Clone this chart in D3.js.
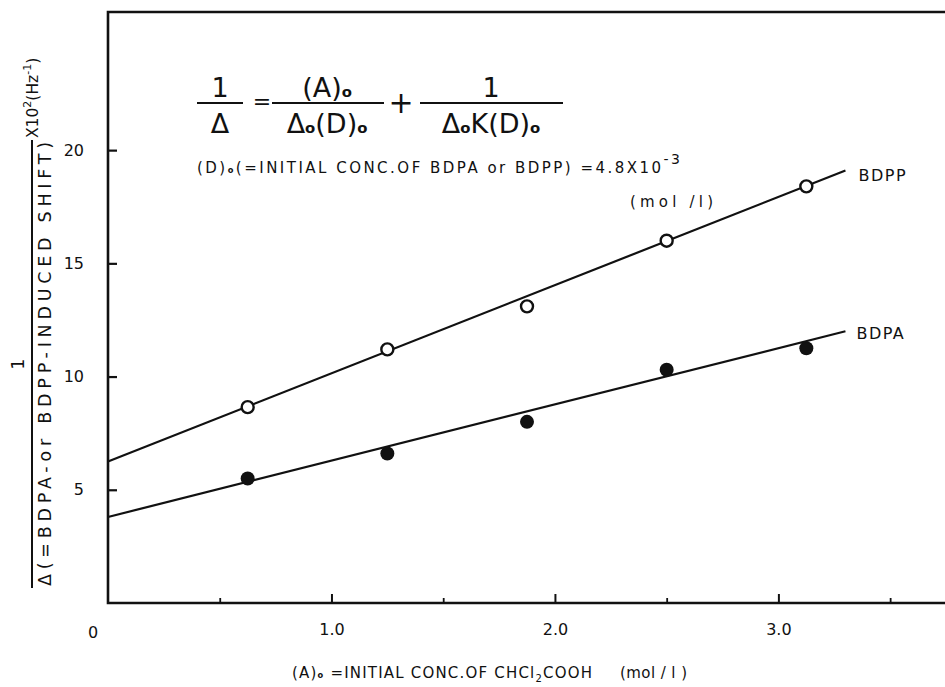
<!DOCTYPE html>
<html><head><meta charset="utf-8">
<script src="https://cdn.jsdelivr.net/npm/d3@7"></script>
<style>
body{margin:0;background:#fff}
svg{display:block}
text{font-family:"DejaVu Sans",sans-serif;fill:#111}
</style>
</head><body><svg id="c" width="945" height="687"></svg>
<script>
// ---- data ----
const xVals = [0.625, 1.25, 1.875, 2.5, 3.125];
const bdppVals = [8.65, 11.2, 13.1, 16.0, 18.4];
const bdpaVals = [5.5, 6.6, 8.0, 10.3, 11.25];
const bdppFitX = [0, 3.3];
const bdppFitY = [6.25, 19.1];
const bdpaFitX = [0, 3.3];
const bdpaFitY = [3.8, 12.0];
const yTicks = [5, 10, 15, 20];
const xMajorTicks = [1, 2, 3];
const xMinorTicks = [0.5, 1.5, 2.5, 3.5];
const xTickLabels = ["1.0", "2.0", "3.0"];
const seriesNames = ["BDPP", "BDPA"];

const svg = d3.select("#c");
const x = d3.scaleLinear().domain([0, 3.75]).range([108, 946]);
const y = d3.scaleLinear().domain([0, 26.1]).range([603, 12]);
const ink = "#111";

// frame
svg.append("path")
  .attr("d", `M${x.range()[1]+2},${y(26.1)} H${x(0)} V${y(0)} H${x.range()[1]+2}`)
  .attr("fill", "none").attr("stroke", ink).attr("stroke-width", 2.6);

// y axis
const yAx = svg.append("g").attr("transform", `translate(${x(0)},0)`)
  .call(d3.axisLeft(y).tickValues(yTicks).tickSize(-9).tickPadding(24).tickFormat(d3.format("d")));
yAx.select(".domain").remove();
yAx.selectAll(".tick line").attr("stroke", ink).attr("stroke-width", 2.2);
yAx.selectAll(".tick text").attr("font-size", 16).attr("font-family", "DejaVu Sans").attr("fill", ink);

// x axis major
const xAx = svg.append("g").attr("transform", `translate(0,${y(0)})`)
  .call(d3.axisBottom(x).tickValues(xMajorTicks).tickSize(-9).tickPadding(21)
    .tickFormat((d, i) => xTickLabels[i]));
xAx.select(".domain").remove();
xAx.selectAll(".tick line").attr("stroke", ink).attr("stroke-width", 2);
xAx.selectAll(".tick text").attr("font-size", 16).attr("font-family", "DejaVu Sans").attr("fill", ink);
// x axis minor
const xMin = svg.append("g").attr("transform", `translate(0,${y(0)})`)
  .call(d3.axisBottom(x).tickValues(xMinorTicks).tickSize(-5).tickFormat(""));
xMin.select(".domain").remove();
xMin.selectAll(".tick line").attr("stroke", ink).attr("stroke-width", 1.8);
// origin label
svg.append("text").attr("x", x(0) - 15).attr("y", y(0) + 35)
  .attr("text-anchor", "middle").attr("font-size", 16).text("0");

// fitted lines
const line = d3.line().x(d => x(d[0])).y(d => y(d[1]));
[[bdppFitX, bdppFitY], [bdpaFitX, bdpaFitY]].forEach(([fx, fy]) => {
  svg.append("path").datum(fx.map((v, i) => [v, fy[i]]))
    .attr("d", line).attr("fill", "none").attr("stroke", ink).attr("stroke-width", 2.2);
});

// points
svg.append("g").selectAll("circle").data(xVals.map((v, i) => [v, bdppVals[i]])).join("circle")
  .attr("cx", d => x(d[0])).attr("cy", d => y(d[1])).attr("r", 6)
  .attr("fill", "#fff").attr("stroke", ink).attr("stroke-width", 2.4);
svg.append("g").selectAll("circle").data(xVals.map((v, i) => [v, bdpaVals[i]])).join("circle")
  .attr("cx", d => x(d[0])).attr("cy", d => y(d[1])).attr("r", 7)
  .attr("fill", ink);

// series labels
svg.append("text").attr("x", x(bdppFitX[1]) + 13).attr("y", y(bdppFitY[1]) + 10)
  .attr("font-size", 16).attr("letter-spacing", 1.5).text(seriesNames[0]);
svg.append("text").attr("x", x(bdpaFitX[1]) + 11).attr("y", y(bdpaFitY[1]) + 8)
  .attr("font-size", 16).attr("letter-spacing", 1.5).text(seriesNames[1]);

// ---- formula ----
function subText(sel, parts) {
  parts.forEach(([t, sub]) => {
    const ts = sel.append("tspan").text(t);
    if (sub) ts.attr("font-size", "55%").attr("font-weight", "bold");
  });
  return sel;
}
const fs = 27;
function frac(cx, x0, x1, num, den) {
  svg.append("line").attr("x1", x0).attr("x2", x1).attr("y1", 103).attr("y2", 103)
    .attr("stroke", ink).attr("stroke-width", 2);
  subText(svg.append("text").attr("x", cx).attr("y", 97).attr("text-anchor", "middle")
    .attr("font-size", fs), num);
  subText(svg.append("text").attr("x", cx).attr("y", 133).attr("text-anchor", "middle")
    .attr("font-size", fs), den);
}
frac(220, 197, 243, [["1", false]], [["Δ", false]]);
svg.append("text").attr("x", 262).attr("y", 109).attr("text-anchor", "middle").attr("font-size", 22).text("=");
frac(327, 272, 384, [["(A)", false], ["o", true]], [["Δ", false], ["o", true], ["(D)", false], ["o", true]]);
svg.append("text").attr("x", 401).attr("y", 113).attr("text-anchor", "middle").attr("font-size", 30).text("+");
frac(491, 420, 563, [["1", false]], [["Δ", false], ["o", true], ["K", false], ["(D)", false], ["o", true]]);

const dl = svg.append("text").attr("x", 197).attr("y", 173).attr("font-size", 15);
subText(dl, [["(D)", false], ["o", true], ["(=INITIAL CONC.OF BDPA or BDPP) =4.8X10", false]]);
dl.append("tspan").attr("dy", -9).attr("font-size", 14).text("-3");
dl.attr("textLength", 483).attr("lengthAdjust", "spacing");
svg.append("text").attr("x", 630).attr("y", 207).attr("font-size", 15)
  .attr("textLength", 83).attr("lengthAdjust", "spacing").text("(mol /l)");

// ---- x title ----
const xt = svg.append("text").attr("x", 292).attr("y", 678).attr("font-size", 15);
subText(xt, [["(A)", false], ["o", true], [" =INITIAL CONC.OF CHCl", false]]);
xt.append("tspan").attr("font-size", 10).attr("dy", 4).text("2");
xt.append("tspan").attr("dy", -4).text("COOH");
xt.attr("textLength", 300).attr("lengthAdjust", "spacing");
svg.append("text").attr("x", 620).attr("y", 678).attr("font-size", 15)
  .attr("textLength", 67).attr("lengthAdjust", "spacing").text("(mol / l )");

// ---- y title (rotated) ----
const yt = svg.append("g").attr("transform", "rotate(-90)");
yt.append("line").attr("x1", -588).attr("x2", -140).attr("y1", 32).attr("y2", 32)
  .attr("stroke", ink).attr("stroke-width", 2);
yt.append("text").attr("x", -364).attr("y", 24).attr("text-anchor", "middle").attr("font-size", 17).text("1");
yt.append("text").attr("x", -586).attr("y", 51).attr("font-size", 17.5)
  .attr("textLength", 444).attr("lengthAdjust", "spacing")
  .text("Δ(=BDPA-or BDPP-INDUCED SHIFT)");
const y2 = yt.append("text").attr("x", -138).attr("y", 38).attr("font-size", 15.5);
y2.append("tspan").text("X10");
y2.append("tspan").attr("dy", -7).attr("font-size", 11).text("2");
y2.append("tspan").attr("dy", 7).text("(Hz");
y2.append("tspan").attr("dy", -7).attr("font-size", 11).text("-1");
y2.append("tspan").attr("dy", 7).text(")");
</script>
</body></html>
